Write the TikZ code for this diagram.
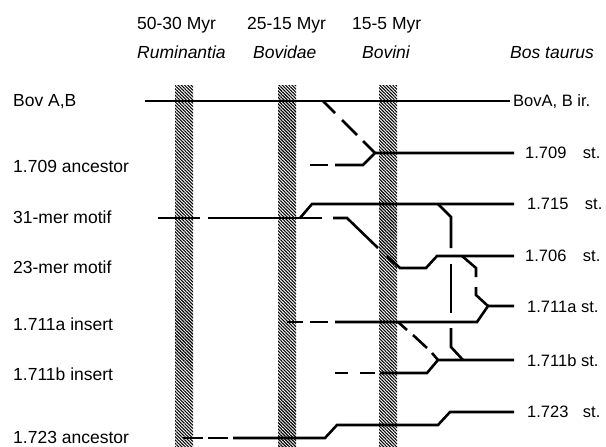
\documentclass[tikz,border=0pt]{standalone}
\usepackage{fontspec}
\setmainfont{Liberation Sans}
\usetikzlibrary{patterns.meta}
\tikzset{
  lbl/.style={inner sep=0pt, anchor=base west, font=\fontsize{17.5}{19}\selectfont},
  rlbl/.style={inner sep=0pt, anchor=base west, font=\fontsize{16.5}{18}\selectfont},
  hdr/.style={lbl},
  hdri/.style={lbl, font=\fontsize{17.5}{19}\selectfont\itshape},
  bar/.style={pattern={Lines[angle=-45,distance=2.3pt,line width=1.1pt]}, pattern color=black},
  ln/.style={line width=2.6pt, line cap=butt, line join=miter},
}
\begin{document}
\begin{tikzpicture}[x=1pt,y=-1pt]
\useasboundingbox (0,0) rectangle (606,447);
% hatched time bars
\fill[bar] (175,85) rectangle (193,447);
\fill[bar] (278,85) rectangle (296,447);
\fill[bar] (379,85) rectangle (397,447);
% headers
\node[hdr] (h1) at (137,30) {50-30 Myr};
\node[hdri] (h1b) at (137,58) {Ruminantia};
\node[hdr] (h2) at (247,30) {25-15 Myr};
\node[hdri] (h2b) at (253,58) {Bovidae};
\node[hdr] (h3) at (352,30) {15-5 Myr};
\node[hdri] (h3b) at (362,58) {Bovini};
\node[hdri] (h4) at (510,58) {Bos taurus};
% left labels
\node[lbl] (l1) at (13,106) {Bov A,B};
\node[lbl] (l2) at (13,172) {1.709 ancestor};
\node[lbl] (l3) at (13,223) {31-mer motif};
\node[lbl] (l4) at (13,273) {23-mer motif};
\node[lbl] (l5) at (13,330) {1.711a insert};
\node[lbl] (l6) at (13,380) {1.711b insert};
\node[lbl] (l7) at (13,443) {1.723 ancestor};
% right labels
\node[rlbl] (r1) at (513,106) {BovA, B ir.};
\node[rlbl] (r2) at (525,158) {1.709\hspace{16.5pt}st.};
\node[rlbl] (r3) at (527,209) {1.715\hspace{16.5pt}st.};
\node[rlbl] (r4) at (525,261) {1.706\hspace{16.5pt}st.};
\node[rlbl] (r5) at (527,312) {1.711a st.};
\node[rlbl] (r6) at (527,366) {1.711b st.};
\node[rlbl] (r7) at (527,417) {1.723\hspace{14.5pt}st.};
% Bov A,B
\draw[ln] (145,101) -- (510,101);
\draw[ln] (323,101) -- (335,113);
\draw[ln] (342,120) -- (357,135);
\draw[ln] (363,141) -- (375,153);
% 1.709
\draw[ln] (335,165) -- (363,165) -- (375,153) -- (514,153);
\draw[ln] (310,165) -- (328,165);
% 31-mer motif
\draw[ln] (158,218) -- (200,218);
\draw[ln] (208,218) -- (322,218);
\draw[ln] (300,218) -- (312,204) -- (514,204);
\draw[ln] (333,218) -- (347,218) -- (378,248);
\draw[ln] (387,256) -- (400,268) -- (426,268) -- (437,256) -- (514,256);
% vertical from 1.715
\draw[ln] (438,204) -- (451,217) -- (451,248);
\draw[ln] (451,264) -- (451,313);
\draw[ln] (451,328) -- (451,347) -- (463,360);
% branch from 1.706
\draw[ln] (462,256) -- (476,268) -- (476,277);
\draw[ln] (476,287) -- (476,295) -- (488,306);
% 1.711a
\draw[ln] (287,322) -- (303,322);
\draw[ln] (310,322) -- (328,322);
\draw[ln] (335,322) -- (477,322) -- (488,306) -- (514,306);
\draw[ln] (398,322) -- (407,330);
\draw[ln] (413,335) -- (427,348);
\draw[ln] (432,353) -- (438,360);
% 1.711b
\draw[ln] (335,373) -- (348,373);
\draw[ln] (360,373) -- (375,373);
\draw[ln] (380,373) -- (427,373) -- (438,360) -- (514,360);
% 1.723
\draw[ln] (183,438) -- (203,438);
\draw[ln] (208,438) -- (228,438);
\draw[ln] (233,438) -- (325,438) -- (337,425) -- (438,425) -- (450,412) -- (514,412);
\end{tikzpicture}
\end{document}
